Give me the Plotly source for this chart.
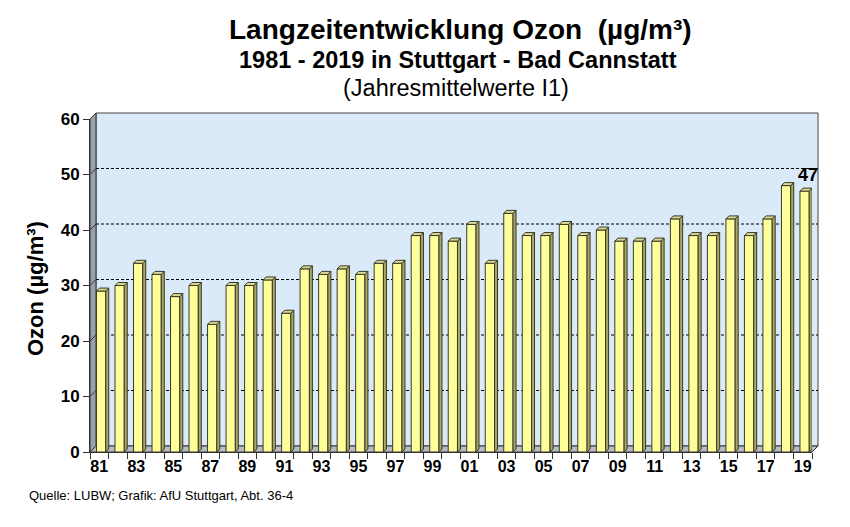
import plotly.graph_objects as go

years = list(range(1981, 2020))
ozone = [29, 30, 34, 32, 28, 30, 23, 30, 30, 31, 25, 33, 32, 33, 32, 34, 34, 39, 39, 38,
         41, 34, 43, 39, 39, 41, 39, 40, 38, 38, 38, 42, 39, 39, 42, 39, 42, 48, 47]
year_labels = [f"{y % 100:02d}" for y in years]
y_ticks = [0, 10, 20, 30, 40, 50, 60]

FONT = "Liberation Sans, Arial, sans-serif"

# layout geometry (screen pixels, page has an 8px body margin)
W, H = 850, 527
OFF = 8
P_L, P_R, P_T, P_B = 90, 812, 119, 452
ML = P_L - OFF
MT = P_T - OFF
MR = W - (P_R - OFF)
MB = H - (P_B - OFF)
PW = P_R - P_L
PH = P_B - P_T
n = len(ozone)
YMAX = 60
px_x = PW / n
px_y = PH / YMAX
DEPTH = 6  # wall depth in px
BD = 3     # bar depth in px
dx = BD / px_x
dy = BD / px_y
BW = 0.5
BOFF = -0.15


def sx(px):
    return (px - P_L) / PW


def sy(py):
    return (P_B - py) / PH


x = list(range(n))

fig = go.Figure()
fig.add_trace(go.Bar(
    x=x, y=ozone, width=BW, offset=BOFF,
    marker=dict(color="#ffff99", line=dict(color="#3a3a2a", width=1)),
    hoverinfo="y", showlegend=False,
))

shapes = []
fx = DEPTH / PW
fy = DEPTH / PH
# back wall
shapes.append(dict(type="rect", xref="paper", yref="paper", x0=fx, x1=1 + fx, y0=fy, y1=1 + fy,
                   fillcolor="#daeaf9", line=dict(color="#444444", width=1), layer="below"))
# left wall
shapes.append(dict(type="path", xref="paper", yref="paper",
                   path=f"M 0,0 L 0,1 L {fx},{1+fy} L {fx},{fy} Z",
                   fillcolor="#9aa0a8", line=dict(color="#333333", width=1), layer="below"))
# floor
shapes.append(dict(type="path", xref="paper", yref="paper",
                   path=f"M 0,0 L 1,0 L {1+fx},{fy} L {fx},{fy} Z",
                   fillcolor="#b8bcc4", line=dict(color="#333333", width=1), layer="below"))
# gridlines on back wall + diagonal tick connectors
for t in y_ticks:
    if 0 < t < YMAX:
        shapes.append(dict(type="line", xref="paper", yref="y", ysizemode="pixel", yanchor=t,
                           x0=fx, x1=1 + fx, y0=DEPTH, y1=DEPTH,
                           line=dict(color="#000000", width=1, dash="3px,2px"), layer="below"))
    shapes.append(dict(type="line", xref="paper", yref="y", ysizemode="pixel", yanchor=t,
                       x0=0, x1=fx, y0=0, y1=DEPTH,
                       line=dict(color="#333333", width=1), layer="below"))

# 3D bar sides and tops
for i, v in enumerate(ozone):
    xl = i + BOFF
    xr = xl + BW
    shapes.append(dict(type="path", xref="x", yref="y",
                       path=f"M {xr},0 L {xr+dx},{dy} L {xr+dx},{v+dy} L {xr},{v} Z",
                       fillcolor="#a8a860", line=dict(color="#3a3a2a", width=1), layer="above"))
    shapes.append(dict(type="path", xref="x", yref="y",
                       path=f"M {xl},{v} L {xr},{v} L {xr+dx},{v+dy} L {xl+dx},{v+dy} Z",
                       fillcolor="#d8d890", line=dict(color="#3a3a2a", width=1), layer="above"))

annotations = [
    dict(text="<b>Langzeitentwicklung Ozon  (µg/m³)</b>", xref="paper", yref="paper",
         x=sx(460), y=sy(30), showarrow=False, yanchor="middle",
         font=dict(size=28, color="#000", family=FONT)),
    dict(text="<b>1981 - 2019 in Stuttgart - Bad Cannstatt</b>", xref="paper", yref="paper",
         x=sx(458), y=sy(60), showarrow=False, yanchor="middle",
         font=dict(size=23.5, color="#000", family=FONT)),
    dict(text="(Jahresmittelwerte I1)", xref="paper", yref="paper",
         x=sx(456), y=sy(88), showarrow=False, yanchor="middle",
         font=dict(size=23.5, color="#000", family=FONT)),
    dict(text="<b>Ozon (µg/m³)</b>", xref="paper", yref="paper",
         x=sx(35), y=sy(289), textangle=-90,
         showarrow=False, font=dict(size=22, color="#000", family=FONT),
         xanchor="center", yanchor="middle"),
    dict(text="Quelle: LUBW; Grafik: AfU Stuttgart, Abt. 36-4", xref="paper", yref="paper",
         x=sx(27), y=sy(495), xanchor="left", yanchor="middle",
         showarrow=False, font=dict(size=13, color="#000", family=FONT)),
    dict(text=f"<b>{ozone[-1]}</b>", xref="x", yref="y", x=n - 1 + 0.28, y=ozone[-1],
         yanchor="bottom", yshift=4, showarrow=False,
         font=dict(size=18, color="#000", family=FONT)),
]

fig.update_layout(
    width=W, height=H,
    margin=dict(l=ML, r=MR, t=MT, b=MB, pad=0),
    paper_bgcolor="white", plot_bgcolor="white",
    shapes=shapes, annotations=annotations,
    xaxis=dict(range=[-0.5, n - 0.5], tickmode="array",
               tickvals=[i for i in x if i % 2 == 0],
               ticktext=[year_labels[i] for i in x if i % 2 == 0],
               ticks="", showgrid=False, zeroline=False, showline=True,
               linecolor="#333333", linewidth=1,
               tickfont=dict(size=16, color="#000", family=FONT, weight="bold"),
               minor=dict(tick0=-0.5, dtick=1, ticks="outside", ticklen=6,
                          tickcolor="#333333", showgrid=False)),
    yaxis=dict(range=[0, YMAX], tickvals=y_ticks, ticks="outside", ticklen=6,
               tickcolor="#333333", showgrid=False, zeroline=False, showline=True,
               linecolor="#333333", linewidth=1,
               tickfont=dict(size=17, color="#000", family=FONT, weight="bold")),
    font=dict(family=FONT, color="#000"),
)

fig.write_html("out.html")
